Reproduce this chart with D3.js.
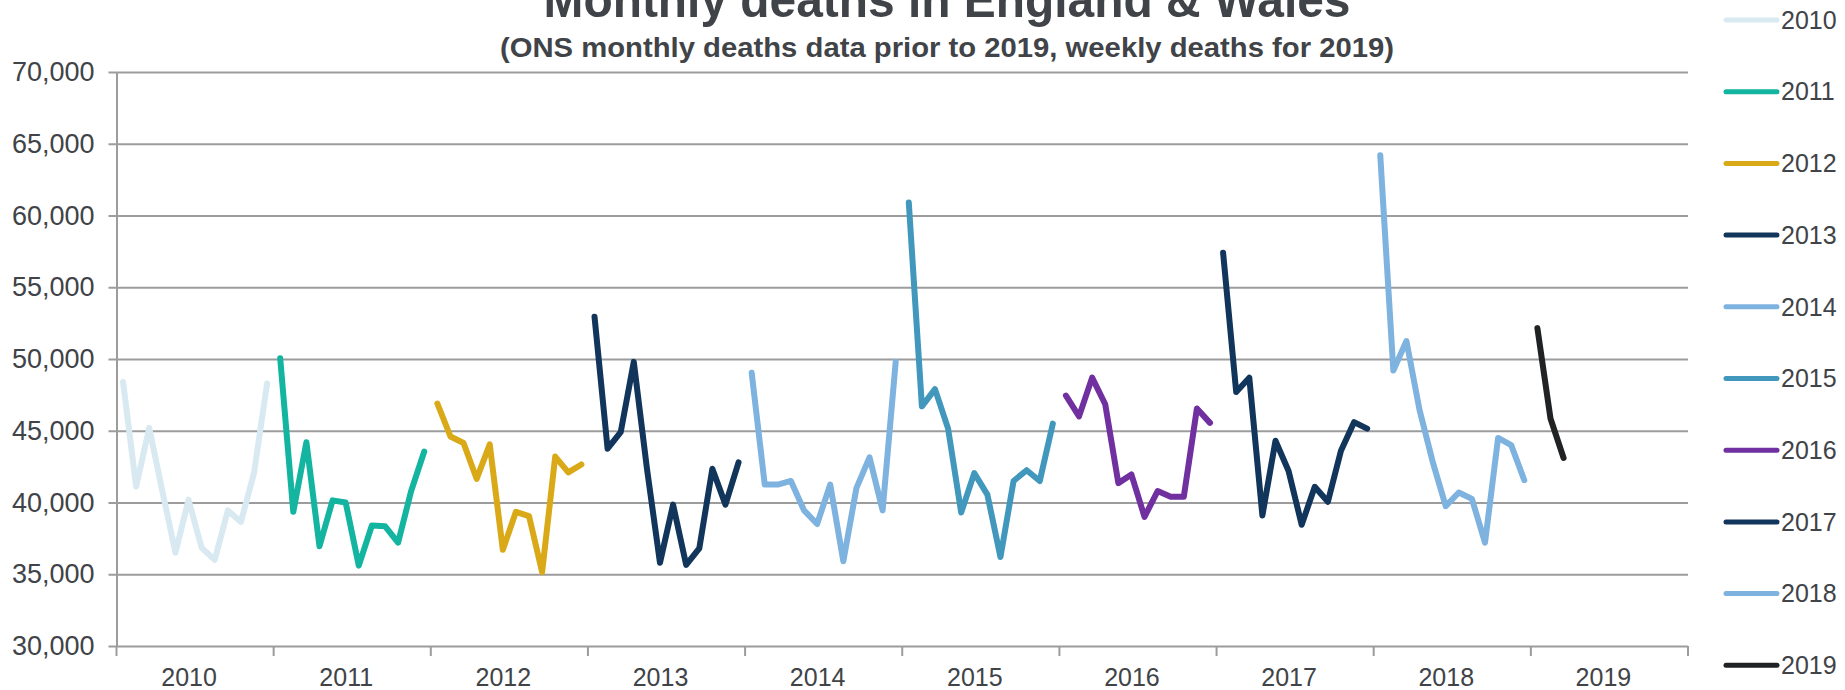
<!DOCTYPE html>
<html>
<head>
    <meta charset="utf-8" />
    <title>Monthly deaths in England &amp; Wales</title>
    <script src="https://cdn.jsdelivr.net/npm/d3@7"></script>
    <style>
        body { margin: 0; background: #fff; }
        svg text { font-family: "Liberation Sans", Arial, sans-serif; fill: #404347; }
    </style>
</head>
<body>
    <svg id="chart" width="1845" height="690"></svg>
    <script>
        // monthly deaths, one series per year
        const years = ["2010", "2011", "2012", "2013", "2014", "2015", "2016", "2017", "2018", "2019"];
        const d2010 = [48400, 41100, 45200, 40800, 36500, 40200, 36850, 36000, 39450, 38650, 42050, 48300];
        const d2011 = [50050, 39350, 44200, 36950, 40150, 40000, 35600, 38400, 38350, 37200, 40800, 43550];
        const d2012 = [46900, 44600, 44150, 41650, 44050, 36700, 39350, 39050, 35150, 43200, 42100, 42650];
        const d2013 = [52950, 43750, 44900, 49800, 42400, 35800, 39850, 35650, 36800, 42350, 39850, 42800];
        const d2014 = [49050, 41250, 41250, 41500, 39450, 38500, 41250, 35900, 41000, 43150, 39450, 49800];
        const d2015 = [60900, 46700, 47900, 45150, 39300, 42050, 40550, 36200, 41500, 42250, 41500, 45500];
        const d2016 = [47450, 46000, 48700, 46850, 41350, 41950, 39000, 40800, 40400, 40400, 46550, 45550];
        const d2017 = [57400, 47700, 48700, 39100, 44300, 42200, 38450, 41100, 40050, 43600, 45600, 45150];
        const d2018 = [64200, 49200, 51250, 46450, 42850, 39750, 40700, 40250, 37200, 44500, 44000, 41550];
        const d2019 = [52150, 45850, 43100];
        const yTicks = [30000, 35000, 40000, 45000, 50000, 55000, 60000, 65000, 70000];
        const colors = ["#d8e9f1", "#13b4a0", "#d9a917", "#12355b", "#7eb2df", "#4298bc", "#7030a0", "#12355b", "#7eb2df", "#202224"];

        const series = years.map((yr, i) => ({
            year: yr,
            color: colors[i],
            values: [d2010, d2011, d2012, d2013, d2014, d2015, d2016, d2017, d2018, d2019][i]
        }));

        const plotL = 116.5, plotR = 1688, plotT = 72, plotB = 646;
        const svg = d3.select('#chart');

        const x = d3.scaleBand().domain(years).range([plotL, plotR]);
        const xm = d3.scaleBand().domain(d3.range(12)).range([0, x.bandwidth()]);
        const y = d3.scaleLinear().domain([30000, 70000]).range([plotB, plotT]);

        // gridlines
        svg.append('g')
            .attr('transform', `translate(${plotR},0)`)
            .call(d3.axisLeft(y).tickValues(yTicks).tickSize(plotR - plotL + 8).tickFormat(''))
            .call(g => g.select('.domain').remove())
            .call(g => g.selectAll('line').attr('stroke', '#9c9c9c').attr('stroke-width', 2));

        // y axis
        svg.append('g')
            .attr('transform', `translate(${plotL},0)`)
            .call(d3.axisLeft(y).tickValues(yTicks).tickSize(0).tickPadding(22).tickFormat(d3.format(',')))
            .call(g => g.select('.domain').attr('stroke', '#9c9c9c').attr('stroke-width', 2))
            .call(g => g.selectAll('text').attr('font-size', 27).style('font-family', null));

        // x axis: year labels centred in each band, ticks on boundaries
        const xAxis = svg.append('g').attr('transform', `translate(0,${plotB})`);
        xAxis.call(d3.axisBottom(x).tickSize(0).tickPadding(22))
            .call(g => g.select('.domain').remove())
            .call(g => g.selectAll('text').attr('font-size', 25).attr('dx', -6).style('font-family', null));
        xAxis.selectAll('line.bound')
            .data(years.map(d => x(d)).concat([plotR]))
            .enter().append('line')
            .attr('class', 'bound')
            .attr('x1', d => d).attr('x2', d => d)
            .attr('y1', 0).attr('y2', 10)
            .attr('stroke', '#9c9c9c').attr('stroke-width', 2);

        // lines
        const line = d3.line()
            .x(d => x(d.year) + xm(d.m) + xm.bandwidth() / 2)
            .y(d => y(d.v));
        svg.append('g')
            .selectAll('path')
            .data(series)
            .enter().append('path')
            .attr('d', s => line(s.values.map((v, m) => ({ year: s.year, m: m, v: v }))))
            .attr('fill', 'none')
            .attr('stroke', s => s.color)
            .attr('stroke-width', 6)
            .attr('stroke-linejoin', 'round')
            .attr('stroke-linecap', 'round');

        // legend
        const leg = svg.append('g')
            .selectAll('g')
            .data(series)
            .enter().append('g')
            .attr('transform', (d, i) => `translate(0,${20 + i * 71.7})`);
        leg.append('line')
            .attr('x1', 1726).attr('x2', 1777)
            .attr('stroke', d => d.color)
            .attr('stroke-width', 5)
            .attr('stroke-linecap', 'round');
        leg.append('text')
            .attr('x', 1781).attr('dy', '0.35em')
            .attr('font-size', 25)
            .text(d => d.year);

        // titles
        svg.append('text')
            .attr('x', 947).attr('y', 17)
            .attr('text-anchor', 'middle')
            .attr('font-size', 50).attr('font-weight', 'bold')
            .attr('textLength', 807).attr('lengthAdjust', 'spacingAndGlyphs')
            .text('Monthly deaths in England & Wales');
        svg.append('text')
            .attr('x', 947).attr('y', 57)
            .attr('text-anchor', 'middle')
            .attr('font-size', 27).attr('font-weight', 'bold')
            .attr('textLength', 894).attr('lengthAdjust', 'spacingAndGlyphs')
            .text('(ONS monthly deaths data prior to 2019, weekly deaths for 2019)');
    </script>
</body>
</html>
